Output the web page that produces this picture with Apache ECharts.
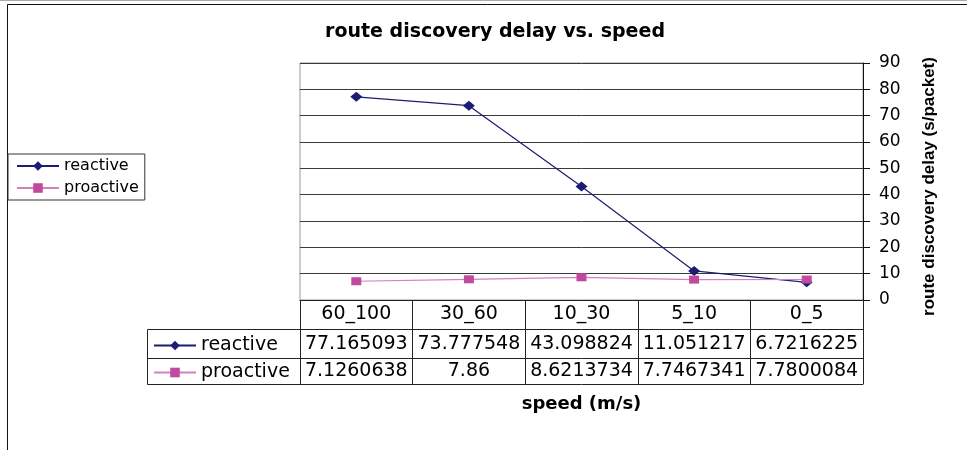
<!DOCTYPE html>
<html>
<head>
<meta charset="utf-8">
<script src="https://cdn.jsdelivr.net/npm/echarts@6/dist/echarts.min.js"></script>
<style>
html,body{margin:0;padding:0;background:#fff;}
#chart{width:967px;height:450px;}
</style>
</head>
<body>
<div id="chart"></div>
<script>
const categories = ['60_100', '30_60', '10_30', '5_10', '0_5'];
const reactive = [77.165093, 73.777548, 43.098824, 11.051217, 6.7216225];
const proactive = [7.1260638, 7.86, 8.6213734, 7.7467341, 7.7800084];
const seriesNames = ['reactive', 'proactive'];
const yMin = 0, yMax = 90, yStep = 10;

const reactiveColor = '#1c1c74';
const proactiveMarker = '#c04a9e';
const proactiveLine = '#d37fc0';
const lineC = '#222';
const tableFont = 'DejaVu Sans';

const chart = echarts.init(document.getElementById('chart'));

function tableAxis(offset, labels, tickLen, margin) {
  return {
    type: 'category',
    position: 'bottom',
    gridIndex: 0,
    offset: offset,
    data: categories,
    boundaryGap: true,
    axisLine: {show: true, lineStyle: {color: lineC, width: 1}},
    axisTick: {show: tickLen > 0, length: tickLen, interval: 0, alignWithLabel: false, lineStyle: {color: lineC, width: 1}},
    axisLabel: {
      show: !!labels, interval: 0, margin: margin,
      color: '#000', fontFamily: tableFont, fontSize: 19,
      formatter: function (v, i) { return labels ? String(labels[i]) : ''; }
    },
    splitLine: {show: false}
  };
}

const option = {
  backgroundColor: '#fff',
  animation: false,
  title: {
    text: 'route discovery delay vs. speed',
    left: 490, top: 18, textAlign: 'center',
    textStyle: {fontFamily: tableFont, fontWeight: 'bold', fontSize: 19, color: '#000'}
  },
  legend: [
    {
      data: seriesNames,
      orient: 'vertical',
      left: 8, top: 154,
      padding: [4, 6, 4, 8],
      itemGap: 6,
      itemWidth: 42, itemHeight: 12,
      borderColor: '#333', borderWidth: 1,
      textStyle: {fontFamily: tableFont, fontSize: 16, color: '#000'}
    },
    {
      data: seriesNames,
      orient: 'vertical',
      left: 153, top: 336,
      padding: 0,
      itemGap: 8,
      itemWidth: 42, itemHeight: 12,
      textStyle: {fontFamily: tableFont, fontSize: 19, color: '#000'}
    }
  ],
  grid: {
    left: 300, right: 104, top: 63, bottom: 150,
    show: true, borderColor: '#999', borderWidth: 1,
    containLabel: false
  },
  xAxis: [
    tableAxis(0, categories, 29, 5),
    tableAxis(29, reactive, 29, 6),
    tableAxis(58, proactive, 26, 4),
    Object.assign(tableAxis(84, null, 0, 0), {
      name: 'speed (m/s)', nameLocation: 'middle', nameGap: 11,
      nameTextStyle: {fontFamily: tableFont, fontWeight: 'bold', fontSize: 18, color: '#000'}
    })
  ],
  yAxis: {
    type: 'value',
    position: 'right',
    min: yMin, max: yMax, interval: yStep,
    name: 'route discovery delay (s/packet)',
    nameLocation: 'middle', nameRotate: 90, nameGap: 58,
    nameTextStyle: {fontFamily: 'Liberation Sans', fontWeight: 'bold', fontSize: 17, color: '#000', padding: [0, 10, 0, 0]},
    axisLine: {show: true, lineStyle: {color: '#111', width: 1}},
    axisTick: {show: true, length: 7, lineStyle: {color: '#111'}},
    axisLabel: {margin: 16, color: '#000', fontFamily: tableFont, fontSize: 17},
    splitLine: {show: true, lineStyle: {color: '#3a3a3a', width: 1}}
  },
  graphic: [
    {type: 'line', shape: {x1: 0, y1: 0.5, x2: 967, y2: 0.5}, style: {stroke: '#aaa', lineWidth: 1}, silent: true},
    {type: 'rect', shape: {x: 7.5, y: 4.5, width: 975, height: 460}, style: {fill: 'none', stroke: '#111', lineWidth: 1}, silent: true},
    {type: 'rect', shape: {x: 147.5, y: 329.5, width: 153, height: 55}, style: {fill: 'none', stroke: lineC, lineWidth: 1}, silent: true},
    {type: 'line', shape: {x1: 147.5, y1: 358.5, x2: 300.5, y2: 358.5}, style: {stroke: lineC, lineWidth: 1}, silent: true}
  ],
  series: [
    {
      name: seriesNames[0], type: 'line', xAxisIndex: 0, yAxisIndex: 0,
      data: reactive,
      symbol: 'diamond', symbolSize: [12, 10],
      itemStyle: {color: reactiveColor},
      lineStyle: {color: reactiveColor, width: 1.2}
    },
    {
      name: seriesNames[1], type: 'line', xAxisIndex: 0, yAxisIndex: 0,
      data: proactive,
      symbol: 'rect', symbolSize: [10, 8],
      itemStyle: {color: proactiveMarker},
      lineStyle: {color: proactiveLine, width: 1.2}
    }
  ]
};
chart.setOption(option);
</script>
</body>
</html>
